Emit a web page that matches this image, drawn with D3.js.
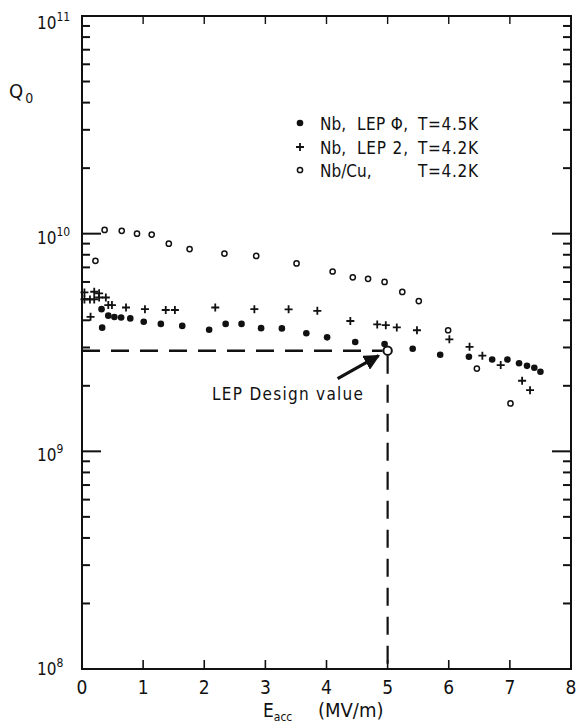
<!DOCTYPE html>
<html>
<head>
<meta charset="utf-8">
<script src="https://cdn.jsdelivr.net/npm/d3@7"></script>
<style>
  body { margin: 0; background: #fff; }
  text { font-family: "DejaVu Sans Condensed", "DejaVu Sans", sans-serif; font-stretch: condensed; fill: #111; }
</style>
</head>
<body>
<svg id="chart" width="576" height="724"></svg>
<script>
// Nb, LEP phi, T=4.5K (filled dots), Q in units of 1e9
var lepPhiE = [0.32, 0.33, 0.43, 0.53, 0.64, 0.79, 1.01, 1.29, 1.64, 2.08, 2.35, 2.61, 2.93, 3.27,
  3.67, 4.01, 4.47, 4.95, 5.41, 5.86, 6.33, 6.71, 6.96, 7.15, 7.28, 7.40, 7.50];
var lepPhiQ = [4.5, 3.7, 4.2, 4.14, 4.12, 4.08, 3.94, 3.85, 3.77, 3.62, 3.85, 3.85, 3.68, 3.67,
  3.49, 3.34, 3.18, 3.11, 2.96, 2.78, 2.72, 2.64, 2.64, 2.54, 2.47, 2.42, 2.32];

// Nb, LEP 2, T=4.2K (crosses)
var lep2E = [0.04, 0.20, 0.28, 0.04, 0.13, 0.20, 0.28, 0.39, 0.14, 0.43, 0.49, 0.72, 1.03, 1.37, 1.52,
  2.18, 2.82, 3.38, 3.85, 4.39, 4.83, 4.97, 5.15, 5.48, 6.01, 6.34, 6.55, 6.85, 7.20, 7.33];
var lep2Q = [5.37, 5.41, 5.32, 4.99, 4.99, 4.99, 5.09, 5.09, 4.15, 4.70, 4.70, 4.58, 4.50, 4.46, 4.46,
  4.58, 4.50, 4.49, 4.42, 3.97, 3.83, 3.80, 3.71, 3.60, 3.27, 3.02, 2.75, 2.49, 2.11, 1.91];

// Nb/Cu, T=4.2K (open circles)
var nbCuE = [0.22, 0.37, 0.65, 0.90, 1.14, 1.42, 1.76, 2.33, 2.85, 3.51, 4.10, 4.43, 4.68, 4.95,
  5.24, 5.51, 5.99, 6.46, 7.01];
var nbCuQ = [7.5, 10.4, 10.3, 10.0, 9.9, 9.0, 8.5, 8.1, 7.9, 7.3, 6.7, 6.3, 6.2, 6.0,
  5.4, 4.9, 3.6, 2.4, 1.66];

var xTicks = [0, 1, 2, 3, 4, 5, 6, 7, 8];
var yDecades = [8, 9, 10, 11];
var designE = 5, designQ = 2.9;

var svg = d3.select("#chart");
var x = d3.scaleLinear().domain([0, 8]).range([82, 571]);
var y = d3.scaleLog().domain([1e8, 1e11]).range([669, 16]);
var ink = "#111";

// frame
svg.append("rect")
  .attr("x", x(0)).attr("y", y(1e11))
  .attr("width", x(8) - x(0)).attr("height", y(1e8) - y(1e11))
  .attr("fill", "none").attr("stroke", ink).attr("stroke-width", 2);

// x ticks, bottom (up) and top (down)
xTicks.slice(1, -1).forEach(function(t) {
  svg.append("line").attr("x1", x(t)).attr("x2", x(t))
    .attr("y1", y(1e8)).attr("y2", y(1e8) - 9).attr("stroke", ink).attr("stroke-width", 1.6);
  svg.append("line").attr("x1", x(t)).attr("x2", x(t))
    .attr("y1", y(1e11)).attr("y2", y(1e11) + 8).attr("stroke", ink).attr("stroke-width", 1.4);
});
xTicks.forEach(function(t) {
  svg.append("text").attr("x", x(t)).attr("y", 694)
    .attr("text-anchor", "middle").attr("font-size", 19).text(t);
});

// y ticks, log minors on both sides
yDecades.slice(0, -1).forEach(function(d) {
  for (var m = 1; m <= 9; m++) {
    var v = m * Math.pow(10, d);
    if (m === 1 && d === 8) continue;
    var major = (m === 1);
    svg.append("line").attr("x1", x(0)).attr("x2", x(0) + (major ? 19 : 8))
      .attr("y1", y(v)).attr("y2", y(v)).attr("stroke", ink).attr("stroke-width", 2);
    svg.append("line").attr("x1", x(8)).attr("x2", x(8) - (major ? 19 : 8))
      .attr("y1", y(v)).attr("y2", y(v)).attr("stroke", ink).attr("stroke-width", 2);
  }
});
yDecades.forEach(function(d) {
  var off = d === 8 ? 6 : (d === 11 ? 13 : 10);
  var t = svg.append("text").attr("x", 37).attr("y", y(Math.pow(10, d)) + off).attr("font-size", 17);
  t.append("tspan").text("10");
  t.append("tspan").attr("dy", -8).attr("font-size", 12).text(d);
});

// axis titles
var q = svg.append("text").attr("x", 9).attr("y", 98).attr("font-size", 20);
q.append("tspan").text("Q");
q.append("tspan").attr("dy", 5).attr("dx", 2).attr("font-size", 14).text("0");

var ex = svg.append("text").attr("x", 263).attr("y", 717).attr("font-size", 19);
ex.append("tspan").text("E");
ex.append("tspan").attr("dy", 4).attr("font-size", 12).text("acc");
svg.append("text").attr("x", 318).attr("y", 717).attr("font-size", 20).text("(MV/m)");

// design value dashed guides
var dx = x(designE), dy = y(designQ * 1e9);
svg.append("line").attr("x1", x(0)).attr("x2", dx - 5).attr("y1", dy).attr("y2", dy)
  .attr("stroke", ink).attr("stroke-width", 2.5).attr("stroke-dasharray", "18,11");
svg.append("line").attr("x1", dx).attr("x2", dx).attr("y1", dy + 5).attr("y2", y(1e8))
  .attr("stroke", ink).attr("stroke-width", 2.2).attr("stroke-dasharray", "18,11");
svg.append("circle").attr("cx", dx).attr("cy", dy).attr("r", 4.2)
  .attr("fill", "#fff").attr("stroke", ink).attr("stroke-width", 2);

// arrow
svg.append("defs").append("marker").attr("id", "head")
  .attr("viewBox", "0 0 10 10").attr("refX", 9).attr("refY", 5)
  .attr("markerWidth", 5).attr("markerHeight", 5).attr("orient", "auto")
  .append("path").attr("d", "M0,0L10,5L0,10z").attr("fill", ink);
svg.append("line").attr("x1", dx - 50).attr("y1", dy + 28).attr("x2", dx - 9).attr("y2", dy + 5)
  .attr("stroke", ink).attr("stroke-width", 3.2).attr("marker-end", "url(#head)");
svg.append("text").attr("x", 212).attr("y", 400).attr("font-size", 17)
  .attr("textLength", 151).attr("lengthAdjust", "spacing").text("LEP Design value");

// data
svg.selectAll(".lepphi").data(d3.zip(lepPhiE, lepPhiQ)).join("circle")
  .attr("cx", function(d) { return x(d[0]); })
  .attr("cy", function(d) { return y(d[1] * 1e9); })
  .attr("r", 3.3).attr("fill", ink);

svg.selectAll(".lep2").data(d3.zip(lep2E, lep2Q)).join("path")
  .attr("d", "M-4,0H4M0,-4V4")
  .attr("transform", function(d) { return "translate(" + x(d[0]) + "," + y(d[1] * 1e9) + ")"; })
  .attr("stroke", ink).attr("stroke-width", 1.8).attr("fill", "none");

svg.selectAll(".nbcu").data(d3.zip(nbCuE, nbCuQ)).join("circle")
  .attr("cx", function(d) { return x(d[0]); })
  .attr("cy", function(d) { return y(d[1] * 1e9); })
  .attr("r", 2.6).attr("fill", "#fff").attr("stroke", ink).attr("stroke-width", 1.5);

// legend
var rows = [
  { yy: 123, kind: "dot", a: "Nb,", b: "LEP \u03A6,", c: "T=4.5K" },
  { yy: 147, kind: "plus", a: "Nb,", b: "LEP 2,", c: "T=4.2K" },
  { yy: 170, kind: "ring", a: "Nb/Cu,", b: "", c: "T=4.2K" }
];
rows.forEach(function(r) {
  if (r.kind === "dot") svg.append("circle").attr("cx", 300).attr("cy", r.yy).attr("r", 3.3).attr("fill", ink);
  if (r.kind === "plus") svg.append("path").attr("d", "M-4,0H4M0,-4V4")
    .attr("transform", "translate(300," + r.yy + ")").attr("stroke", ink).attr("stroke-width", 1.8);
  if (r.kind === "ring") svg.append("circle").attr("cx", 300).attr("cy", r.yy).attr("r", 2.6)
    .attr("fill", "#fff").attr("stroke", ink).attr("stroke-width", 1.5);
  var ty = r.yy + 7;
  svg.append("text").attr("x", 320).attr("y", ty).attr("font-size", 17).text(r.a);
  if (r.b) svg.append("text").attr("x", 357).attr("y", ty).attr("font-size", 17)
    .attr("textLength", 51).attr("lengthAdjust", "spacing").text(r.b);
  svg.append("text").attr("x", 418).attr("y", ty).attr("font-size", 17)
    .attr("textLength", 60).attr("lengthAdjust", "spacing").text(r.c);
});
</script>
</body>
</html>
